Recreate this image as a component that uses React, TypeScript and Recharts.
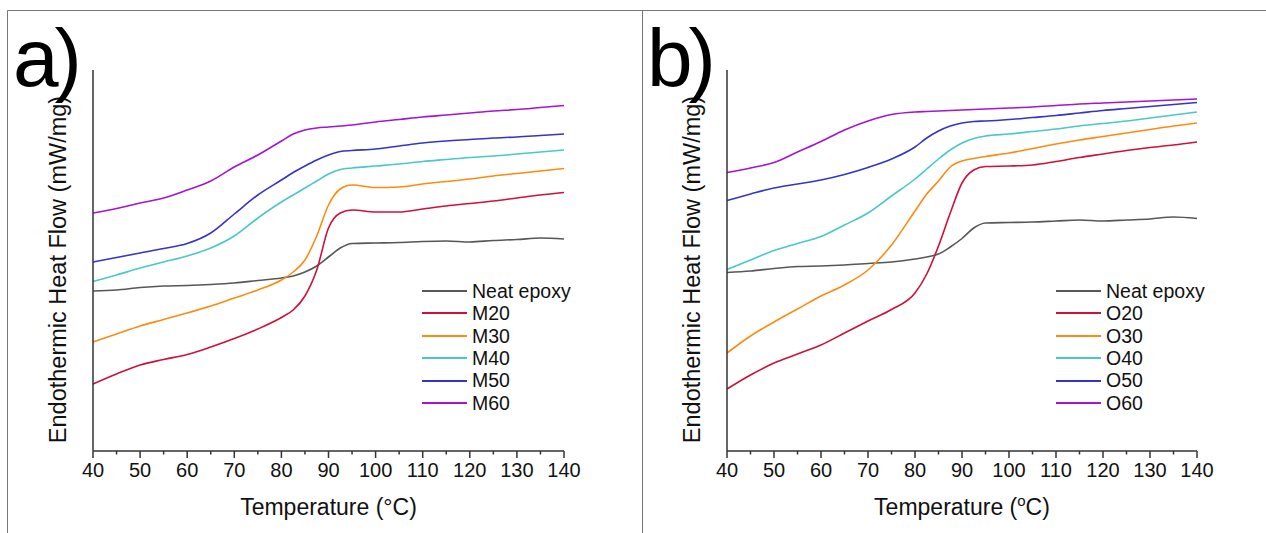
import React from 'react';
import { LineChart, Line, XAxis, YAxis, Legend } from 'recharts';

// temperature grid (°C) shared by every curve
const temps = [40, 45, 50, 55, 60, 65, 70, 75, 80, 82.5, 85, 87.5, 90, 92.5, 95, 100, 105, 110, 115, 120, 125, 130, 135, 140];
const xTicks = [40, 45, 50, 55, 60, 65, 70, 75, 80, 85, 90, 95, 100, 105, 110, 115, 120, 125, 130, 135, 140];

// panel a) heat flow, arbitrary units (no y scale in the figure)
const neatA = [160, 161, 163.5, 165, 165.5, 166.5, 168, 170.5, 173, 175, 179, 185, 194, 203, 207.5, 208, 208.5, 209.5, 210, 209, 210.5, 211.5, 213, 212];
const m20 = [67, 77, 86, 91.5, 96.5, 104, 112.5, 122, 133.5, 141, 155, 181, 223, 238, 241, 239, 239, 242, 245, 247.5, 250, 253, 256, 258.5];
const m30 = [109, 117, 125, 131.5, 138, 145, 153, 161, 171, 179, 191, 215, 246, 262, 266, 263.5, 264, 267, 269.5, 272, 275, 277.5, 280, 282.5];
const m40 = [169.5, 176, 183, 189, 195, 203, 215, 233, 249, 256, 263, 270, 277, 281.5, 283, 285, 287, 289.5, 291.5, 293.5, 295, 297, 299, 301];
const m50 = [189, 193.5, 198, 202.5, 207.5, 218, 237, 256, 271, 278.5, 285, 291, 296, 299.5, 300.5, 302, 305, 308, 310, 311.5, 313, 314, 315.5, 317];
const m60 = [238, 242.5, 248, 253, 261, 270, 284, 296, 310, 317, 321, 323, 324, 325, 326, 329, 331.5, 334, 336, 338, 340, 341.5, 343.5, 345.5];

// panel b)
const neatB = [178.5, 180, 182.5, 184.5, 185, 186, 187.5, 189, 192, 194, 197, 204, 212.5, 223, 228, 228.5, 229, 230, 231, 230, 231, 232, 234, 232.5];
const o20 = [62, 76, 88, 97, 106, 118, 130, 141.5, 158, 177, 205, 238, 268, 281, 284.5, 285, 286, 289.5, 293.5, 297, 300.5, 303.5, 306, 309];
const o30 = [98, 115, 129, 142, 155, 166, 181, 206, 240, 257, 270, 284, 290, 292.5, 294.5, 298, 302.5, 307, 311, 314.5, 318, 321.5, 325, 328];
const o40 = [181.5, 191, 200.5, 207.5, 214.5, 226, 238, 255, 272, 282, 292, 301, 308, 312.5, 315, 317, 319.5, 322, 325, 327.5, 330, 333, 336, 339];
const o50 = [250.5, 257, 263, 267, 271, 276.5, 283.5, 292, 304, 313, 320, 325, 328, 329.5, 330, 331.5, 333.5, 335.5, 338, 340.5, 342.5, 344.5, 346.5, 348.5];
const o60 = [278.5, 283, 288.5, 299, 309.5, 321, 330, 336.5, 339, 339.5, 340, 340.5, 341, 341.5, 342, 343, 344, 345.5, 347, 348, 349, 350, 351, 352];

const namesA = ['Neat epoxy', 'M20', 'M30', 'M40', 'M50', 'M60'];
const namesB = ['Neat epoxy', 'O20', 'O30', 'O40', 'O50', 'O60'];
const colors = ['#575757', '#d0103a', '#ff8a10', '#48c8c8', '#3434c8', '#a414d4'];

const FONT = '"Liberation Sans", Arial, Helvetica, sans-serif';
const AXIS = '#333';

const buildRows = (series: number[][]) =>
  temps.map((t, i) => {
    const row: Record<string, number> = { t };
    series.forEach((s, k) => (row['s' + k] = s[i]));
    return row;
  });

const dataA = buildRows([neatA, m20, m30, m40, m50, m60]);
const dataB = buildRows([neatB, o20, o30, o40, o50, o60]);

const TempTick = (props: any) => {
  const { x, y, payload } = props;
  const major = payload.value % 10 === 0;
  return (
    <g>
      <line x1={x} x2={x} y1={y} y2={y + (major ? 7 : 3.5)} stroke={AXIS} strokeWidth={1.5} />
      {major && (
        <text x={x} y={y + 26} textAnchor="middle" fontSize={20} fill="#111" fontFamily={FONT}>
          {payload.value}
        </text>
      )}
    </g>
  );
};

const yTitle = (props: any) => {
  const vb = props.viewBox;
  const x = vb.x + vb.width - 27;
  const y = vb.y + vb.height / 2 + 9;
  return (
    <text x={x} y={y} transform={`rotate(-90 ${x} ${y})`} textAnchor="middle" fontSize={23.5} fill="#111" fontFamily={FONT}>
      Endothermic Heat Flow (mW/mg)
    </text>
  );
};

const xTitleA = (props: any) => {
  const vb = props.viewBox;
  return (
    <text x={vb.x + vb.width / 2} y={vb.y + 64} textAnchor="middle" fontSize={23} fill="#111" fontFamily={FONT}>
      Temperature (°C)
    </text>
  );
};

const xTitleB = (props: any) => {
  const vb = props.viewBox;
  return (
    <text x={vb.x + vb.width / 2} y={vb.y + 64} textAnchor="middle" fontSize={23} fill="#111" fontFamily={FONT}>
      Temperature (<tspan fontSize={15} dy={-9}>o</tspan><tspan dy={9}>C)</tspan>
    </text>
  );
};

const legendFor = (names: string[]) => (props: any) => {
  const items = [...props.payload].sort((a: any, b: any) => names.indexOf(a.value) - names.indexOf(b.value));
  return (
    <div style={{ fontFamily: FONT, fontSize: 19.5, color: '#111' }}>
      {items.map((p: any) => (
        <div key={p.value} style={{ display: 'flex', alignItems: 'center', height: 22.4 }}>
          <svg width={50} height={6} style={{ flex: 'none' }}>
            <line x1={0} x2={45} y1={3} y2={3} stroke={p.color} strokeWidth={1.8} />
          </svg>
          <span style={{ lineHeight: '22.4px', whiteSpace: 'nowrap' }}>{p.value}</span>
        </div>
      ))}
    </div>
  );
};

type PanelProps = {
  data: Record<string, number>[];
  names: string[];
  width: number;
  left: number;
  marginLeft: number;
  marginRight: number;
  legendLeft: number;
  xTitle: (p: any) => React.ReactElement;
};

const Panel = ({ data, names, width, left, marginLeft, marginRight, legendLeft, xTitle }: PanelProps) => (
  <LineChart
    width={width}
    height={533}
    data={data}
    margin={{ top: 70, right: marginRight, bottom: 52, left: marginLeft }}
    style={{ position: 'absolute', left, top: 0 }}
  >
    <XAxis
      dataKey="t"
      type="number"
      domain={[40, 140]}
      ticks={xTicks}
      interval={0}
      height={30}
      tickSize={0}
      tickMargin={0}
      tickLine={false}
      tick={<TempTick />}
      axisLine={{ stroke: AXIS, strokeWidth: 1.5 }}
      label={xTitle}
    />
    <YAxis
      type="number"
      domain={[0, 381]}
      width={40}
      tick={false}
      tickLine={false}
      axisLine={{ stroke: AXIS, strokeWidth: 1.5 }}
      label={yTitle}
    />
    <Legend
      layout="vertical"
      align="center"
      verticalAlign="middle"
      content={legendFor(names)}
      wrapperStyle={{ left: legendLeft, top: 279.8, width: 200 }}
    />
    {names.map((n, k) => (
      <Line
        key={n}
        type="monotone"
        dataKey={'s' + k}
        name={n}
        stroke={colors[k]}
        strokeWidth={1.6}
        dot={false}
        activeDot={false}
        isAnimationActive={false}
      />
    ))}
  </LineChart>
);

export default function App() {
  return (
    <div style={{ position: 'absolute', left: 0, top: 0, width: 1266, height: 533, background: '#fff', overflow: 'hidden', fontFamily: FONT }}>
      <Panel data={dataA} names={namesA} width={640} left={0} marginLeft={53} marginRight={76} legendLeft={422} xTitle={xTitleA} />
      <Panel data={dataB} names={namesB} width={626} left={640} marginLeft={47} marginRight={69} legendLeft={416} xTitle={xTitleB} />
      <svg width={1266} height={533} style={{ position: 'absolute', left: 0, top: 0, pointerEvents: 'none' }}>
        <line x1={7.5} x2={1266} y1={10.5} y2={10.5} stroke="#777" strokeWidth={1} />
        <line x1={7.5} x2={7.5} y1={10.5} y2={533} stroke="#777" strokeWidth={1} />
        <line x1={642.5} x2={642.5} y1={10.5} y2={533} stroke="#777" strokeWidth={1} />
        <text x={13} y={86} fontSize={82} letterSpacing={-4} fill="#000" fontFamily={FONT}>a)</text>
        <text x={647} y={86} fontSize={82} letterSpacing={-4} fill="#000" fontFamily={FONT}>b)</text>
      </svg>
    </div>
  );
}
